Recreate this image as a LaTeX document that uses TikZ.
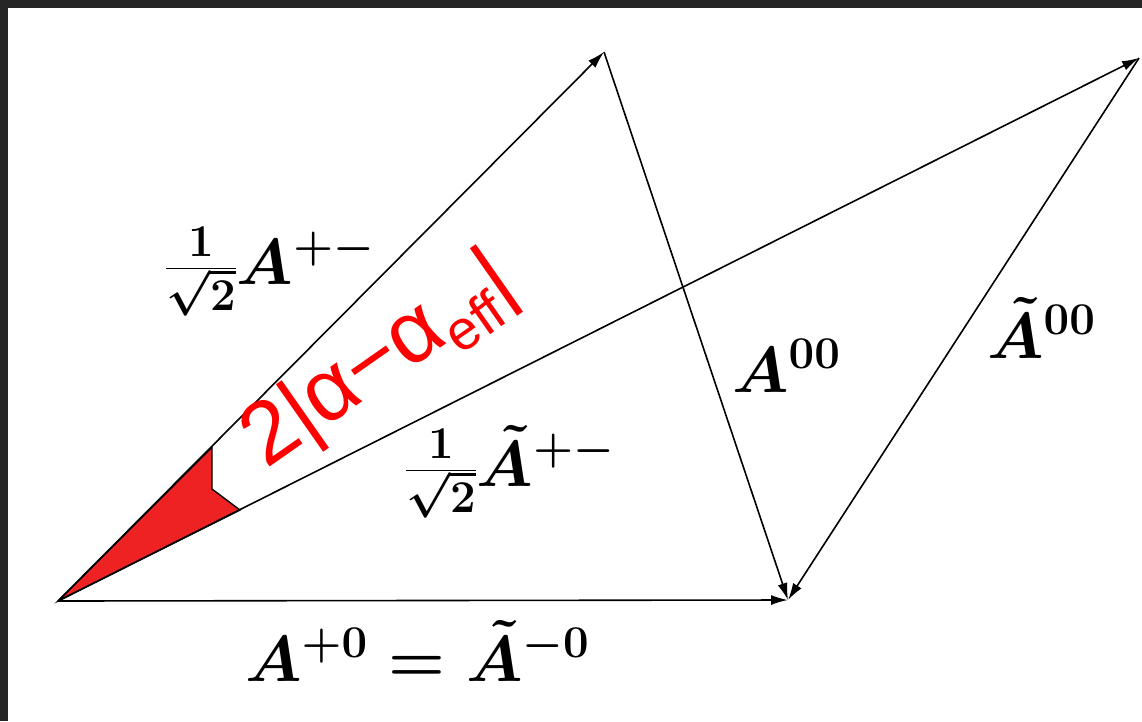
\RequirePackage{fix-cm}
\documentclass[tikz,border=0pt]{standalone}
\usepackage[no-math]{fontspec}
\newfontfamily\redsf{Liberation Sans}
\usetikzlibrary{arrows.meta}
\definecolor{frame}{HTML}{262626}
\definecolor{wedge}{HTML}{EE2222}
\tikzset{
  vec/.style={line width=1.6pt, -{Latex[length=17pt,width=10pt]}},
  lab/.style={inner sep=0pt, anchor=base west, font=\fontsize{65}{72}\selectfont\boldmath}
}
\begin{document}
\begin{tikzpicture}[x=1pt,y=-1pt]
\useasboundingbox (0,0) rectangle (1142,721);
\fill[frame] (0,0) rectangle (1142,721);
\fill[white] (8,8) rectangle (1142,721);
% points
\coordinate (O) at (58,601);
\coordinate (B) at (788,600);
\coordinate (P) at (604,52);
\coordinate (Q) at (1139,58);
\coordinate (w1) at (212,447);
\coordinate (w2) at (212,489);
\coordinate (w3) at (240,510);
% red wedge
\filldraw[fill=wedge, draw=black, line width=1.4pt, line join=miter] (O) -- (w1) -- (w2) -- (w3) -- cycle;
% vectors
\draw[vec] (O) -- (B);
\draw[vec] (O) -- (P);
\draw[vec] (O) -- (Q);
\draw[vec] (P) -- (B);
\draw[vec] (Q) -- (B);
% labels
\node[lab] (l1) at (165,284) {$\frac{1}{\sqrt{2}}A^{+-}$};
\node[lab] (l2) at (405,486) {$\frac{1}{\sqrt{2}}\tilde{A}^{+-}$};
\node[lab] (l3) at (732,392) {$A^{00}$};
\node[lab] (l4) at (987,358) {$\tilde{A}^{00}$};
\node[lab] (l5) at (245,681) {$A^{+0}=\tilde{A}^{-0}$};
\node[inner sep=0pt, anchor=base west, rotate=35, text=red, font=\redsf\fontsize{88}{96}\selectfont] (ang) at (266,470) {2|α−α\raisebox{-0.2em}{\fontsize{56}{60}\selectfont eff}|};
\end{tikzpicture}
\end{document}
